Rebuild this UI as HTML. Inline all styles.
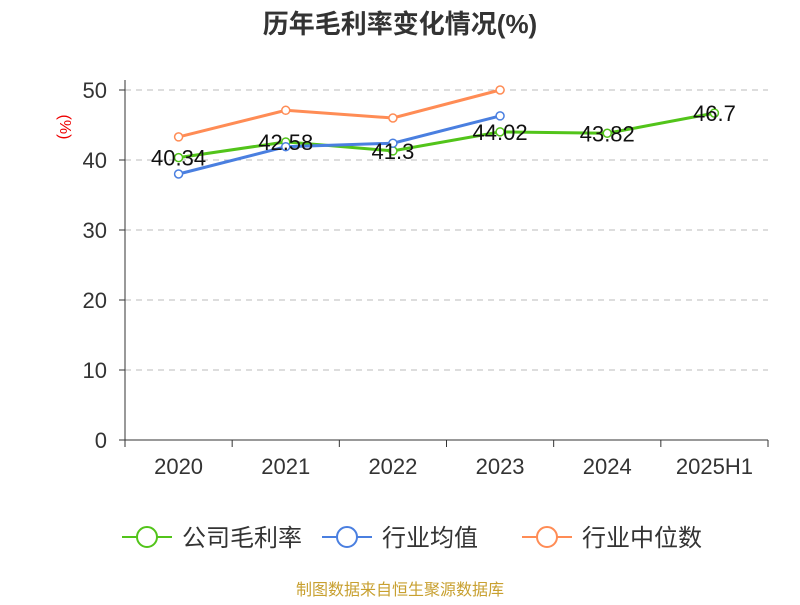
<!DOCTYPE html>
<html><head><meta charset="utf-8"><style>
body{margin:0;background:#fff;}
svg text{font-family:"Liberation Sans","Noto Sans CJK SC",sans-serif;}
</style></head><body>
<svg id="c" width="800" height="600" xmlns="http://www.w3.org/2000/svg">
<text x="400" y="33" text-anchor="middle" font-size="26" font-weight="bold" fill="#333">历年毛利率变化情况(%)</text>
<text x="60" y="127" text-anchor="middle" font-size="16" fill="#e00" transform="rotate(90 60 127)">(%)</text>
<g id="grid"></g><g id="axes"></g><g id="series"></g><g id="labels"></g>
<g id="legend"></g>
<text x="400" y="595" text-anchor="middle" font-size="16" fill="#c8a030">制图数据来自恒生聚源数据库</text>
</svg>
<script>
const categories=["2020","2021","2022","2023","2024","2025H1"];
const yTicks=[0,10,20,30,40,50];
const company=[40.34,42.58,41.3,44.02,43.82,46.7];
const industryAvg=[38.0,41.9,42.4,46.3,null,null];
const industryMedian=[43.3,47.1,46.0,50.0,null,null];
const companyLabels=["40.34","42.58","41.3","44.02","43.82","46.7"];
const NS="http://www.w3.org/2000/svg";
const x0=125,x1=768,yb=440,yt=90,ymax=50;
const bw=(x1-x0)/categories.length;
const X=i=>x0+bw*(i+0.5);
const Y=v=>yb-(v/ymax)*(yb-yt);
function mk(t,a,p){const e=document.createElementNS(NS,t);for(const k in a)e.setAttribute(k,a[k]);p.appendChild(e);return e;}
const grid=document.getElementById('grid'),axes=document.getElementById('axes'),ser=document.getElementById('series'),lab=document.getElementById('labels'),leg=document.getElementById('legend');
yTicks.forEach(v=>{
 if(v>0){const g=mk('line',{x1:x0,x2:x1,y1:Y(v),y2:Y(v),stroke:'#bbb','stroke-dasharray':'6,5'},grid);
 
 }
 const t=mk('line',{x1:x0-6,x2:x0,y1:Y(v),y2:Y(v),stroke:'#333'},axes);
 
 
 const tx=mk('text',{x:x0-18,y:Y(v)+8,'text-anchor':'end','font-size':22,fill:'#333'},axes);tx.textContent=v;
 
 
});
const ya=mk('line',{x1:x0,x2:x0,y1:yt-10,y2:yb,stroke:'#333'},axes);


const xa=mk('line',{x1:x0,x2:x1,y1:yb,y2:yb,stroke:'#333'},axes);


for(let i=0;i<=categories.length;i++){const t=mk('line',{x1:x0+bw*i,x2:x0+bw*i,y1:yb,y2:yb+7,stroke:'#333'},axes);
 
 }
categories.forEach((c,i)=>{const t=mk('text',{x:X(i),y:yb+34,'text-anchor':'middle','font-size':22,fill:'#333'},axes);t.textContent=c;
 
 });
function series(data,color,name){
 const g=mk('g',{},ser);
 
 
 const pts=data.map((v,i)=>v==null?null:[X(i),Y(v)]).filter(p=>p);
 mk('polyline',{points:pts.map(p=>p.join(',')).join(' '),fill:'none',stroke:color,'stroke-width':3},g);
 pts.forEach(p=>{const c=mk('circle',{cx:p[0],cy:p[1],r:4,fill:'#fff',stroke:color,'stroke-width':1.5},g);
 
 });
}
series(company,'#52c41a','company-margin-line');
series(industryAvg,'#4a7fe0','industry-average-line');
series(industryMedian,'#ff8c55','industry-median-line');
company.forEach((v,i)=>{const t=mk('text',{x:X(i),y:Y(v)+8,'text-anchor':'middle','font-size':22,fill:'#111'},lab);t.textContent=companyLabels[i];
 
 });
[["公司毛利率",'#52c41a',122],["行业均值",'#4a7fe0',322],["行业中位数",'#ff8c55',522]].forEach(([n,c,x])=>{
 const g=mk('g',{},leg);
 
 
 mk('line',{x1:x,x2:x+50,y1:537,y2:537,stroke:c,'stroke-width':2},g);
 mk('circle',{cx:x+25,cy:537,r:10,fill:'#fff',stroke:c,'stroke-width':2},g);
 const t=mk('text',{x:x+60,y:546,'font-size':24,fill:'#333'},g);t.textContent=n;
});
</script>
</body></html>
